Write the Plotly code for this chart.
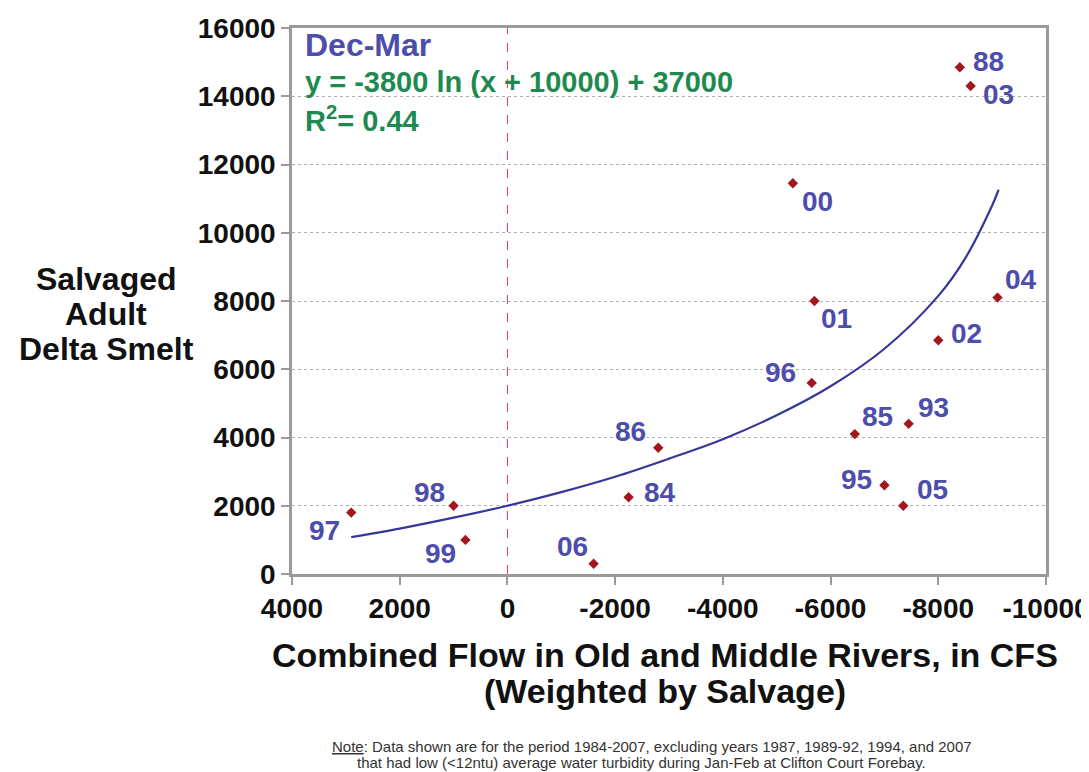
import plotly.graph_objects as go

# ---- data ----
years = ["97", "98", "99", "06", "84", "86", "00", "01", "96", "85", "93", "95", "05", "02", "04", "88", "03"]
flow_cfs = [2900, 1000, 780, -1600, -2250, -2800, -5300, -5700, -5650, -6450, -7450, -7000, -7350, -8000, -9100, -8400, -8600]
salvage = [1800, 2000, 1000, 300, 2250, 3700, 11450, 8000, 5600, 4100, 4400, 2600, 2000, 6850, 8100, 14850, 14300]

trend_x = [2900, 2000, 1000, 0, -1000, -2000, -3000, -4000, -5000, -6000, -7000, -8000, -8500, -9000, -9120]
trend_y = [1080, 1330, 1650, 2000, 2400, 2850, 3380, 3950, 4650, 5500, 6600, 8150, 9250, 10800, 11260]

x_ticks = [4000, 2000, 0, -2000, -4000, -6000, -8000, -10000]
y_ticks = [0, 2000, 4000, 6000, 8000, 10000, 12000, 14000, 16000]

# label offsets in pixels (styling only): (xshift, yshift)
label_shift = {
    "97": (-27, -18), "98": (-24, 13), "99": (-25, -14), "06": (-21, 17),
    "84": (31, 5), "86": (-28, 16), "00": (25, -18), "01": (22, -17),
    "96": (-31, 10), "85": (23, 18), "93": (25, 16), "95": (-28, 6),
    "05": (29, 16), "02": (28, 7), "04": (23, 18), "88": (29, 6), "03": (28, -8),
}

BLUE = "#4d4dab"
GREEN = "#1f8a50"
RED = "#a3161b"
GRAY = "#9a9a9a"
FONT = "Liberation Sans, Arial, sans-serif"

# figure geometry (page has an 8px body margin)
W, H = 1081, 764
ML, MR, MT, MB = 284, 43, 20, 198
PW, PH = W - ML - MR, H - MT - MB
OFF = 8


def px(page_x):
    return (page_x - OFF - ML) / PW


def py(page_y):
    return 1 - (page_y - OFF - MT) / PH


fig = go.Figure()
fig.add_trace(go.Scatter(
    x=trend_x, y=trend_y, mode="lines", line=dict(color="#36369c", width=2.2, shape="spline"),
    hoverinfo="skip", showlegend=False,
))
fig.add_trace(go.Scatter(
    x=flow_cfs, y=salvage, mode="markers",
    marker=dict(symbol="diamond", size=8, color=RED),
    showlegend=False,
))

for yr, xv, yv in zip(years, flow_cfs, salvage):
    dx, dy = label_shift[yr]
    fig.add_annotation(x=xv, y=yv, text=yr, showarrow=False, xshift=dx, yshift=dy,
                       font=dict(family=FONT, size=28, color=BLUE, weight="bold"))

# vertical dashed line at zero flow
fig.add_shape(type="line", xref="x", yref="paper", x0=0, x1=0, y0=0, y1=1,
              line=dict(color="#d63a5c", width=1, dash="dash"))

fig.add_annotation(xref="paper", yref="paper", x=px(303), y=py(45), xanchor="left", yanchor="middle",
                   text="Dec-Mar", showarrow=False,
                   font=dict(family=FONT, size=32, color=BLUE, weight="bold"))
fig.add_annotation(xref="paper", yref="paper", x=px(303), y=py(82), xanchor="left", yanchor="middle",
                   text="y = -3800 ln (x + 10000) + 37000", showarrow=False,
                   font=dict(family=FONT, size=29, color=GREEN, weight="bold"))
fig.add_annotation(xref="paper", yref="paper", x=px(303), y=py(119), xanchor="left", yanchor="middle",
                   text="R<sup>2</sup>= 0.44", showarrow=False,
                   font=dict(family=FONT, size=29, color=GREEN, weight="bold"))

# y-axis title (three lines)
for txt, yy in [("Salvaged", 279), ("Adult", 314), ("Delta Smelt", 349)]:
    fig.add_annotation(xref="paper", yref="paper", x=px(106), y=py(yy), xanchor="center", yanchor="middle",
                       text=txt, showarrow=False,
                       font=dict(family=FONT, size=32, color="#111", weight="bold"))

# x-axis title (two lines)
fig.add_annotation(xref="paper", yref="paper", x=px(665), y=py(655), xanchor="center", yanchor="middle",
                   text="Combined Flow in Old and Middle Rivers, in CFS", showarrow=False,
                   font=dict(family=FONT, size=34, color="#111", weight="bold"))
fig.add_annotation(xref="paper", yref="paper", x=px(665), y=py(691), xanchor="center", yanchor="middle",
                   text="(Weighted by Salvage)", showarrow=False,
                   font=dict(family=FONT, size=34, color="#111", weight="bold"))

# note (two lines)
fig.add_annotation(xref="paper", yref="paper", x=px(652), y=py(746), xanchor="center", yanchor="middle",
                   text="<u>Note</u>: Data shown are for the period 1984-2007, excluding years 1987, 1989-92, 1994, and 2007",
                   showarrow=False, font=dict(family=FONT, size=15, color="#333"))
fig.add_annotation(xref="paper", yref="paper", x=px(641), y=py(762), xanchor="center", yanchor="middle",
                   text="that had low (<12ntu) average water turbidity during Jan-Feb at Clifton Court Forebay.",
                   showarrow=False, font=dict(family=FONT, size=15, color="#333"))

fig.update_layout(
    width=W, height=H,
    margin=dict(l=ML, r=MR, t=MT, b=MB, autoexpand=False),
    paper_bgcolor="white", plot_bgcolor="white",
    xaxis=dict(range=[4000, -10000], tickvals=x_ticks, ticktext=[str(v) for v in x_ticks],
               showgrid=False, zeroline=False, showline=True, mirror=True, automargin=False,
               linecolor=GRAY, linewidth=2.5, ticks="outside", ticklen=8, tickcolor=GRAY, tickwidth=2,
               ticklabeloverflow="allow",
               tickfont=dict(family=FONT, size=28, color="#111", weight="bold")),
    yaxis=dict(range=[0, 16000], tickvals=y_ticks, ticktext=[str(v) for v in y_ticks],
               showgrid=True, gridcolor="#b0b0b0", griddash="dot", gridwidth=1,
               zeroline=False, showline=True, mirror=True, automargin=False,
               linecolor=GRAY, linewidth=2.5, ticks="outside", ticklen=8, tickcolor=GRAY, tickwidth=2,
               tickfont=dict(family=FONT, size=28, color="#111", weight="bold")),
)

fig.write_html("out.html")
